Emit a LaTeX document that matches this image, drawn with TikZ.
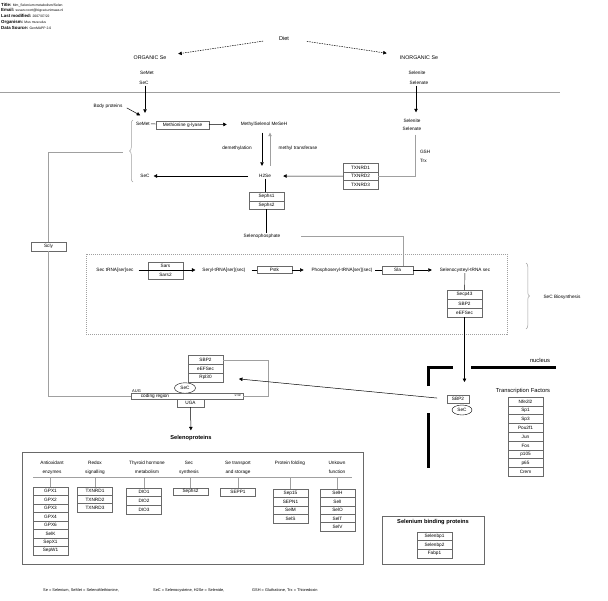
\documentclass[tikz,border=0pt]{standalone}
\usepackage{fontspec}
\setmainfont{Liberation Sans}
\usetikzlibrary{arrows.meta,positioning,shapes.geometric,decorations.pathreplacing}
\definecolor{linegray}{RGB}{160,160,160}
\definecolor{boxgray}{RGB}{105,105,105}
\newcommand{\hlab}[1]{{\fontsize{4.4}{5}\selectfont\bfseries #1}}

\begin{document}
\begin{tikzpicture}[x=1pt, y=-1pt, every node/.style={font=\fontsize{4.7}{5.6}\selectfont, inner sep=0.8pt},
  box/.style={draw=boxgray, fill=white, minimum width=35pt, minimum height=8.6pt, inner sep=0pt, outer sep=0pt},
  oval/.style={draw, ellipse, minimum width=21pt, minimum height=10.5pt, inner sep=0pt},
  big/.style={font=\fontsize{5.3}{6}\selectfont},
  cat/.style={align=center, font=\fontsize{4.7}{9}\selectfont},
  hdr/.style={font=\fontsize{3.4}{4}\selectfont, anchor=west, inner sep=0pt},
  note/.style={font=\fontsize{3.9}{4.5}\selectfont, anchor=west, inner sep=0pt},
  arr/.style={-{Triangle[length=3.5pt,width=3.5pt]}, line width=0.5pt},
  darr/.style={arr, dash pattern=on 1.5pt off 1pt},
  gline/.style={draw=linegray, line width=0.5pt},
  brc/.style={draw=linegray, line width=0.5pt, decorate, decoration={brace, amplitude=3.5pt}},
  wall/.style={line width=3pt}]
\useasboundingbox (0,0) rectangle (608,600);

% header
\node[hdr] (title) at (1,5) {\hlab{Title:} Mm\_Selenium metabolism/Selen};
\node[hdr] (email) at (1,10.5) {\hlab{Email:} susan.coort@bigcat.unimaas.nl};
\node[hdr] (modified) at (1,16) {\hlab{Last modified:} 2007/07/22};
\node[hdr] (organism) at (1,22) {\hlab{Organism:} Mus musculus};
\node[hdr] (source) at (1,27.5) {\hlab{Data Source:} GenMAPP 2.0};

% diet
\node[big, font=\fontsize{5.6}{6}\selectfont] (diet) at (284,38) {Diet};
\node[big] (org) at (150,58) {ORGANIC Se};
\node[big] (inorg) at (419,58) {INORGANIC Se};
\draw[darr, shorten <=15pt, shorten >=11pt] (diet) -- (org);
\draw[darr, shorten <=17pt, shorten >=13pt] (diet) -- (inorg);
\node (orgsemet) at (147,73) {SeMet};
\node (orgsec) at (144,83) {SeC};
\node (selenite) at (417,73) {Selenite};
\node (selenate) at (419,83) {Selenate};
\draw[linegray, line width=0.5pt] (0,92) -- (560,92);

% methylation
\node (body) at (108,106) {Body proteins};
\node (semet) at (143,123.5) {SeMet};
\node[box, minimum width=53pt, minimum height=8pt] (mgl) at (182.5,125) {Methionine g-lyase};
\node (msh) at (264,124) {MethylSelenol MeSeH};
\node (demeth) at (237,148) {demethylation};
\node (mtrans) at (298,148) {methyl transferase};
\node (sec) at (145,176) {SeC};
\node (h2se) at (265,176) {H2Se};
\node (selenite2) at (412,121) {Selenite};
\node (selenate2) at (412,129) {Selenate};
\node[anchor=west] (gsh) at (419,152) {GSH};
\node[anchor=west] (trx) at (419,161) {Trx};
\node[box, minimum height=8.7pt] (txnrd1) at (360.5,167.5) {TXNRD1};
\node[box, minimum height=8.7pt, below=0pt of txnrd1] (txnrd2) {TXNRD2};
\node[box, minimum height=8.7pt, below=0pt of txnrd2] (txnrd3) {TXNRD3};
\node[box, minimum height=8.5pt] (sephs1) at (266.5,196.5) {Sephs1};
\node[box, minimum height=8.5pt, below=0pt of sephs1] (sephs2) {Sephs2};
\node (sephos) at (262,236) {Selenophosphate};
\draw[arr, shorten >=8pt] ([xshift=1pt]orgsec.south) -- ([xshift=2pt]semet.north);
\draw[arr, shorten >=6pt] ([xshift=-3pt]selenate.south) -- ([xshift=4pt]selenite2.north);
\draw[arr, shorten <=4pt] (body.east) -- ([xshift=5pt,yshift=5.5pt]semet.north west);
\draw (semet) -- (mgl); \draw[arr, shorten >=13pt] (mgl) -- (msh);
\draw[arr, shorten <=5.5pt, shorten >=7.5pt] ([xshift=-2pt]msh.south) -- ([xshift=-3pt]h2se.north);
\draw[arr, linegray, shorten <=7.5pt, shorten >=5.5pt] ([xshift=5pt]h2se.north) -- ([xshift=6pt]msh.south);
\draw[arr, shorten <=10pt, shorten >=3pt] (h2se) -- (sec);
\draw[arr, shorten >=11.3pt] (txnrd2) -- (h2se);
\draw[gline, shorten <=3pt] ([xshift=3pt]selenate2.south) |- (txnrd2.east);
\draw (h2se.south) -- (h2se.south |- sephs1.north);
\draw (sephs2.south) -- (sephs2.south |- sephos.north);
\draw[brc] (133,182) -- (133,120);
\coordinate (bracetip) at (123,152);

% SeC biosynthesis
\node[box, minimum height=8.7pt] (scly) at (48.5,246.5) {Scly};
\draw[linegray, dash pattern=on 1pt off 1pt, line width=0.5pt] (86,254) rectangle (507,334);
\node (sectrna) at (115,270) {Sec tRNA[ser]sec};
\node[box, minimum height=8.5pt] (sars) at (165.5,266) {Sars};
\node[box, minimum height=8.5pt, below=0pt of sars] (sars2) {Sars2};
\node (seryl) at (224,270) {Seryl-tRNA[ser](sec)};
\node[box, minimum height=7pt] (pstk) at (274.5,270) {Pstk};
\node (phospho) at (342,270) {Phosphoseryl-tRNA[ser](sec)};
\node[box, minimum width=31pt, minimum height=8pt] (sla) at (397.5,270) {Sla};
\node (seltrna) at (465,270) {Selenocysteyl-tRNA sec};
\node[box, minimum height=9pt] (secp43) at (464.5,294.5) {Secp43};
\node[box, minimum height=9pt, below=0pt of secp43] (sbp2) {SBP2};
\node[box, minimum height=9pt, below=0pt of sbp2] (eefsec) {eEFSec};
\draw[arr, shorten <=4pt, shorten >=6pt] (sectrna.east) -- (seryl.west);
\draw[shorten <=5pt] (seryl) -- (pstk); \draw[arr, shorten >=7pt] (pstk) -- (phospho);
\draw[shorten <=2pt] (phospho) -- (sla); \draw[arr, shorten >=7pt] (sla) -- (seltrna);
\draw (seltrna) -- (secp43);
\draw[gline, shorten <=20pt] (sephos.east) -| ([xshift=5.5pt]sla.north);
\draw[brc] (526,263) -- (526,329);
\node (secbio) at (562,297) {SeC Biosynthesis};

% translation
\node[box, minimum height=8.7pt] (sbp2c) at (205.5,360) {SBP2};
\node[box, minimum height=8.7pt, below=0pt of sbp2c] (eefsecc) {eEFSec};
\node[box, minimum height=8.7pt, below=0pt of eefsecc] (rpl30) {Rpl30};
\node[oval] (secc) at (185,388) {SeC};
\node[draw=boxgray, minimum width=112pt, minimum height=6pt, inner sep=0pt] (coding) at (187,396) {};
\node (codtxt) at (155,396) {coding region};
\node[font=\fontsize{2.5}{3}\selectfont] (stop) at (238,396) {STOP};
\node[anchor=west, inner sep=0pt, font=\fontsize{4}{4.5}\selectfont] (aug) at (132,391) {AUG};
\node[box, minimum width=27pt, minimum height=8pt] (uga) at (190.5,403) {UGA};
\node[font=\fontsize{5.7}{6}\selectfont\bfseries] (selprot) at (191,438) {Selenoproteins};
\draw[gline] (sbp2c.east) -- ++(45,0) |- (coding.east);
\draw[gline] (bracetip) -| (scly.north);
\draw[gline] (scly.south) |- (coding.west);
\draw[arr, shorten >=4pt] (uga) -- (selprot);

% nucleus
\draw[wall] (428,386) -- (428,367) -- (453,367);
\draw[wall] (471,367) -- (556,367);
\draw[wall] (428,413) -- (428,468);
\node[font=\fontsize{5.8}{6}\selectfont] (nucleus) at (540,360) {nucleus};
\node[box, minimum width=22pt, minimum height=8pt] (sbp2n) at (458,399) {SBP2};
\node[oval, minimum width=20pt, minimum height=10pt] (secn) at (462,410) {SeC};
\draw[arr, shorten >=13pt] (eefsec.south) -- (eefsec.south |- sbp2n.north);
\draw[arr, shorten <=10pt, shorten >=16pt] (sbp2n.west) -- (rpl30.east);
\node[font=\fontsize{5.8}{6}\selectfont] (tftitle) at (523,391) {Transcription Factors};
\node[box, minimum height=8.8pt] (nfe2l2) at (525.5,401.4) {Nfe2l2};
\node[box, minimum height=8.8pt, below=0pt of nfe2l2] (sp1) {Sp1};
\node[box, minimum height=8.8pt, below=0pt of sp1] (sp3) {Sp3};
\node[box, minimum height=8.8pt, below=0pt of sp3] (pou2f1) {Pou2f1};
\node[box, minimum height=8.8pt, below=0pt of pou2f1] (jun) {Jun};
\node[box, minimum height=8.8pt, below=0pt of jun] (fos) {Fos};
\node[box, minimum height=8.8pt, below=0pt of fos] (p105) {p105};
\node[box, minimum height=8.8pt, below=0pt of p105] (p65) {p65};
\node[box, minimum height=8.8pt, below=0pt of p65] (crem) {Crem};

% selenoproteins
\draw[boxgray, line width=0.5pt] (22,452) rectangle (363,564);
\coordinate (catl) at (33,477); \coordinate (catr) at (352,477);
\draw[gline] (catl) -- (catr);
\node[cat] (antiox) at (52,467.5) {Antioxidant\\enzymes};
\node[cat] (redox) at (95,467.5) {Redox\\signalling};
\node[cat] (thyroid) at (147,467.5) {Thyroid hormone\\metabolism};
\node[cat] (secsyn) at (189,467.5) {Sec\\synthesis};
\node[cat] (setrans) at (238,467.5) {Se transport\\and storage};
\node[cat] (folding) at (290,463) {Protein folding};
\node[cat] (unknown) at (337,467.5) {Unkown\\function};
\node[box, minimum height=8.5pt] (gpx1) at (50.5,491.3) {GPX1};
\node[box, minimum height=8.5pt, below=0pt of gpx1] (gpx2) {GPX2};
\node[box, minimum height=8.5pt, below=0pt of gpx2] (gpx3) {GPX3};
\node[box, minimum height=8.5pt, below=0pt of gpx3] (gpx4) {GPX4};
\node[box, minimum height=8.5pt, below=0pt of gpx4] (gpx6) {GPX6};
\node[box, minimum height=8.5pt, below=0pt of gpx6] (selk) {SelK};
\node[box, minimum height=8.5pt, below=0pt of selk] (sepx1) {SepX1};
\node[box, minimum height=8.5pt, below=0pt of sepx1] (sepw1) {SepW1};
\node[box, minimum height=8.3pt] (redtx1) at (95,491.2) {TXNRD1};
\node[box, minimum height=8.3pt, below=0pt of redtx1] (redtx2) {TXNRD2};
\node[box, minimum height=8.3pt, below=0pt of redtx2] (redtx3) {TXNRD3};
\node[box, minimum height=8.6pt] (dio1) at (144,492.3) {DIO1};
\node[box, minimum height=8.6pt, below=0pt of dio1] (dio2) {DIO2};
\node[box, minimum height=8.6pt, below=0pt of dio2] (dio3) {DIO3};
\node[box, minimum height=7.5pt] (synsephs2) at (190.5,491.7) {Sephs2};
\node[box, minimum height=8pt] (sepp1) at (238,492) {SEPP1};
\node[box, minimum height=8.5pt] (sep15) at (290.5,493.3) {Sep15};
\node[box, minimum height=8.5pt, below=0pt of sep15] (sepn1) {SEPN1};
\node[box, minimum height=8.5pt, below=0pt of sepn1] (selm) {SelM};
\node[box, minimum height=8.5pt, below=0pt of selm] (sels) {SelS};
\node[box, minimum height=8.4pt] (selh) at (337.5,493.2) {SelH};
\node[box, minimum height=8.4pt, below=0pt of selh] (seli) {SelI};
\node[box, minimum height=8.4pt, below=0pt of seli] (selo) {SelO};
\node[box, minimum height=8.4pt, below=0pt of selo] (selt) {SelT};
\node[box, minimum height=8.4pt, below=0pt of selt] (selv) {SelV};
\draw[gline] (gpx1.north) -- (gpx1.north |- catl); \draw[gline] (redtx1.north) -- (redtx1.north |- catl);
\draw[gline] (dio1.north) -- (dio1.north |- catl); \draw[gline] (synsephs2.north) -- (synsephs2.north |- catl);
\draw[gline] (sepp1.north) -- (sepp1.north |- catl); \draw[gline] (sep15.north) -- (sep15.north |- catl);
\draw[gline] (selh.north) -- (selh.north |- catl);

% selenium binding proteins
\draw[boxgray, line width=0.5pt] (382,516) rectangle (484,564);
\node[font=\fontsize{5.7}{6}\selectfont\bfseries] (sbptitle) at (433,522) {Selenium binding proteins};
\node[box, minimum height=8.7pt] (selenbp1) at (434.5,536.3) {Selenbp1};
\node[box, minimum height=8.7pt, below=0pt of selenbp1] (selenbp2) {Selenbp2};
\node[box, minimum height=8.7pt, below=0pt of selenbp2] (fabp1) {Fabp1};

% legend
\node[note] (fn1) at (43,590) {Se = Selenium, SeMet = SelenoMethionine,};
\node[note] (fn2) at (153,590) {SeC = Selenocysteine, H2Se = Selenide,};
\node[note] (fn3) at (252,590) {GSH = Gluthatione, Trx = Thioredoxin};
\end{tikzpicture}
\end{document}
